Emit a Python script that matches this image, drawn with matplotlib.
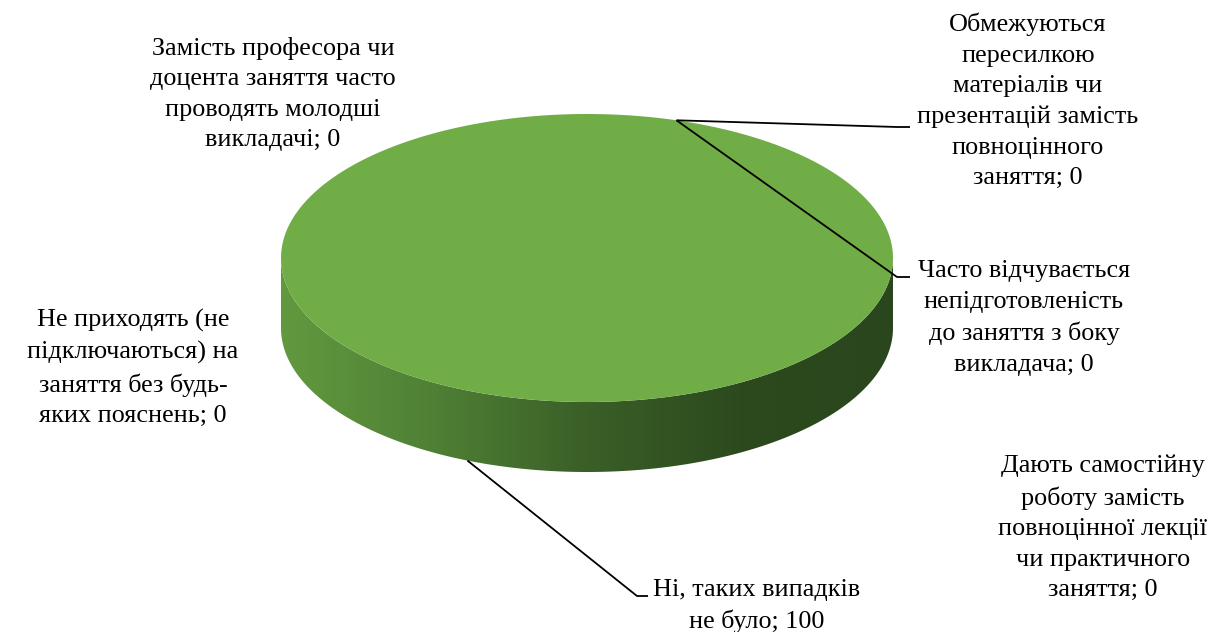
import matplotlib.pyplot as plt
import numpy as np
from matplotlib.patches import Polygon
from matplotlib.colors import LinearSegmentedColormap

# дані діаграми
labels = [
    "Ні, таких випадків\nне було",
    "Не приходять (не\nпідключаються) на\nзаняття без будь-\nяких пояснень",
    "Замість професора чи\nдоцента заняття часто\nпроводять молодші\nвикладачі",
    "Обмежуються\nпересилкою\nматеріалів чи\nпрезентацій замість\nповноцінного\nзаняття",
    "Часто відчувається\nнепідготовленість\nдо заняття з боку\nвикладача",
    "Дають самостійну\nроботу замість\nповноцінної лекції\nчи практичного\nзаняття",
]
values = [100, 0, 0, 0, 0, 0]

# розміщення підписів (x, y центру, чи є виносна лінія, кінець лінії, горизонтальний хвіст)
label_pos = [
    (757, 606, True, (637, 596), 648),
    (133, 368, False, None, None),
    (273, 94, False, None, None),
    (1028, 101, True, (897, 127), 910),
    (1024, 318, True, (897, 277), 910),
    (1103, 528, False, None, None),
]

cx, cy, rx, ry, depth = 587, 258, 306, 144, 70
first_angle = 17  # градуси за годинниковою від 12-ї
top_color = "#70ad47"

plt.rcParams['font.family'] = ['Liberation Serif', 'DejaVu Serif']

fig = plt.figure(figsize=(12.1, 6.32), dpi=100)
ax = fig.add_axes([0, 0, 1, 1])
ax.set_xlim(0, 1210)
ax.set_ylim(632, 0)
ax.axis("off")


def pt(t, dz=0.0):
    return cx + rx * np.cos(t), cy - ry * np.sin(t) + dz


total = sum(values)
start = first_angle
for i, v in enumerate(values):
    frac = v / total
    a1 = np.radians(90 - start)
    a2 = np.radians(90 - start - 360 * frac)
    mid = (a1 + a2) / 2
    if v > 0:
        # бічна поверхня (передня половина)
        ts = np.linspace(np.pi, 2 * np.pi, 400)
        if frac < 1:
            tt = np.mod(ts - a2, 2 * np.pi)
            ts = ts[tt <= (a1 - a2)]
        if len(ts):
            xs, ys = pt(ts)
            xb, yb = pt(ts[::-1], depth)
            side = Polygon(np.column_stack([np.r_[xs, xb], np.r_[ys, yb]]),
                           closed=True, facecolor="none", edgecolor="none")
            ax.add_patch(side)
            cmap = LinearSegmentedColormap.from_list(
                "side", ["#62993f", "#4f8035", "#3a5f27", "#2c4a1e", "#2a461d"])
            grad = np.linspace(0, 1, 256).reshape(1, -1)
            im = ax.imshow(grad, cmap=cmap, aspect="auto",
                           extent=(cx - rx, cx + rx, cy + ry + depth + 2, cy - 2),
                           zorder=1)
            im.set_clip_path(side)
        # верхня грань
        if frac >= 1:
            tt = np.linspace(0, 2 * np.pi, 600)
            xs, ys = pt(tt)
        else:
            tt = np.linspace(a1, a2, 300)
            xs, ys = pt(tt)
            xs = np.r_[cx, xs]
            ys = np.r_[cy, ys]
        ax.add_patch(Polygon(np.column_stack([xs, ys]), closed=True,
                             facecolor=top_color, edgecolor="none", zorder=2))
        ax_pt = pt(mid - np.radians(6), depth)
    else:
        ax_pt = pt(a1)

    lx, ly, leader, lend, hend = label_pos[i]
    if leader:
        xl = [ax_pt[0], lend[0]]
        yl = [ax_pt[1], lend[1]]
        if hend is not None:
            xl.append(hend)
            yl.append(lend[1])
        ax.plot(xl, yl, color="black", lw=1.3, zorder=3, solid_capstyle="butt")
    ax.text(lx, ly, f"{labels[i]}; {v}", ha="center", va="center",
            multialignment="center", fontsize=18.8, linespacing=1.5,
            color="#000000", zorder=4)
    start += 360 * frac

fig.savefig("out.png", dpi=100)
